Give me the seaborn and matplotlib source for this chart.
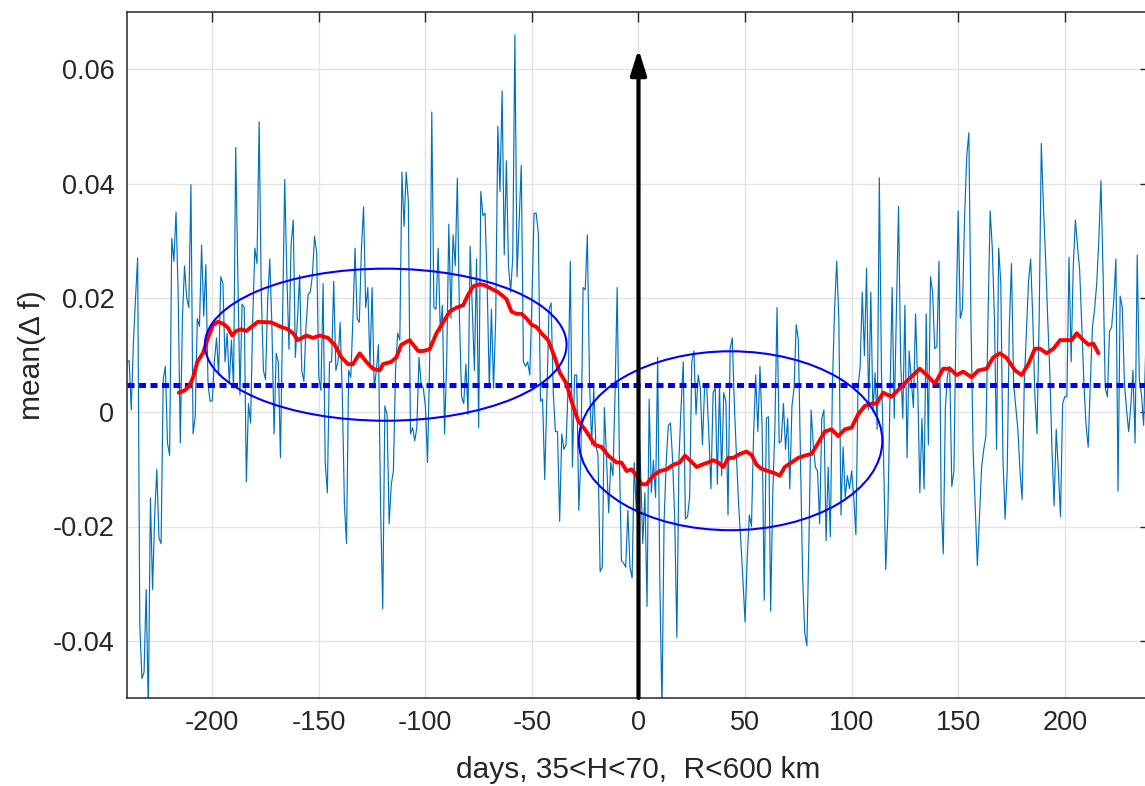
import numpy as np
import matplotlib
matplotlib.use("Agg")
import matplotlib.pyplot as plt
import seaborn as sns
from matplotlib.patches import Ellipse

# ---------------- data ----------------
day_start = -240
# daily mean(Δf) values, in units of 1e-3, starting at day -240
mean_df_milli = [
    8.8, 9, 0.4, 12, 20, 27, -37, -46.6, -45.5, -31,          # -240
    -52, -15, -31, -18, -10, -22, -23, 5.7, 8, -5.4,           # -230
    -7.6, 30.4, 26.4, 35, 21, -5.4, 16.4, 25.6, 20, 18.3,      # -220
    39.8, -3.8, -0.8, 16.4, 15, 29.2, 16.8, 25.8, 5, 1.9,      # -210
    2, 8.8, 13, 6.5, 23.7, 22.5, 8.8, 13.8, 5, 12.6,           # -200
    4.2, 46.3, 24, 3, 18.9, 18.3, -12.2, 1.5, -1.9, 16.4,      # -190
    28.7, 26, 50.8, 21, 7.3, 5.7, 19.5, 26.8, 14.9, -3.8,      # -180
    10.3, 8.8, -8, 16.4, 40.7, 24, 11, 29.4, 33.6, 9.6,        # -170
    16.4, 24, 7.3, 5.4, 14.9, 20.6, 21, 24, 30.8, 27.9,        # -160
    6.1, 3.8, 22.5, -8.8, -14.1, 8.8, 8.8, 22.9, 7.3, 8.8,     # -150
    15.7, 3.4, -16, -23, 7.3, 6.1, 16.4, 28.7, 16.4, 15.7,     # -140
    28.7, 35.9, 18.3, 21.8, 8, 21.8, 4.2, 7.3, 11.8, -17,      # -130
    -34.4, 1.1, -0.4, -19.5, -12.6, -10.3, 7.3, 13.8, 12.6, 42,  # -120
    32.5, 42, 37, -3.8, -2.7, -5, -2.7, 9.6, 5, 4.2,           # -110
    1.1, -8.8, 8.8, 52.5, 18.3, 18, 28.7, 14.1, 18.7, -3.8,    # -100
    8.8, 32.9, 16.4, 31, 25.6, 40.9, 16.4, 2.7, 1.5, 8.4,      # -90
    -0.4, 29, 18, 7.3, 26.8, -2.7, 38.6, 34.4, 34.8, 22.2,     # -80
    4.2, 18, 4.2, 16.4, 50, 38.6, 56.2, 27.5, 44, 25.6,        # -70
    21, 27.1, 66, 23.7, 33.3, 43.2, 8.8, 8, 8.8, 6.5,          # -60
    19.5, 34.8, 34.8, 31.3, 1.9, 2.3, -11.8, 2.7, 18, 19.1,    # -50
    3.4, -3.4, -3.4, -19.1, -3.8, -6.5, -5.7, 4.6, 26.4, -9.6,  # -40
    6.5, 6.5, -17.2, -7.3, 21.8, 21.4, 31, 5.7, -5.7, 4.2,     # -30
    -5.7, -7.6, -27.9, -27.1, 0.8, -8, -17.6, -8.8, -11.1, 3.4,  # -20
    21.8, -7.3, -26, -26.4, -27.1, -17.2, -27.1, -29, -8.8, -17.6,  # -10
    1.1, -10.3, -23, -14.1, -34, 2.3, -14.1, -8.4, -14.9, 9.6,  # 0
    -29.4, -52, -19.1, -8.8, -2.3, -1.9, -8.4, -18.7, -39.4, -8,  # 10
    1.1, 8.8, -18.7, -18.3, -14.9, 8.8, 10.7, -0.4, 6.5, 4.2,  # 20
    -5.7, 4.2, 4.6, -3.8, -13.4, 3.4, 4.2, -12.6, 4.6, -11.1,  # 30
    3.4, 1.9, -18, 11.1, 13, 1.1, -8, -16.4, -22.5, -29.4,     # 40
    -36.7, -25.6, -18, -20, -4, 6.5, -3.4, 8, -2.7, -32.9,     # 50
    -1.1, -0.8, -34.8, -14.1, -2.7, 18.3, -5.4, -5, 1.5, -6.5,  # 60
    -1.1, -13.4, 1.1, 4.2, 15.3, 12.6, -8, -28.7, -38.6, -40.9,  # 70
    -21.8, 0.4, -5.7, -9.6, -10.3, -19.5, -1.1, 0.4, -22.5, -9.6,  # 80
    -21.8, 5, 18, 26.4, 16.4, -18, -6.1, -14.9, -11.1, -13.4,  # 90
    -10.3, -14.9, -21.4, 4.2, 8, 21, 9.9, 25.2, 0.4, 21,       # 100
    0, 6.9, -3, 41, 7, -8, -27.5, -18, 2.7, 21.8,              # 110
    -1.1, 17, 36, 8.8, -1.1, 18.7, -8, 10.7, 5.4, 0.8,         # 120
    17.2, 5, -14.1, -1.1, -13.4, 17.2, -5.7, 23.7, 21, 11.1,   # 130
    11.5, 26.4, -16, -24.8, 0.8, 6.5, 8, -13, -10.3, 16.4,     # 140
    35.2, 16.4, 18, 34, 44.7, 48.9, 15.7, -6.5, -16.4, -26.8,  # 150
    -18, -9.6, -6.5, -4.2, 16.4, 35.2, 28.7, 16.4, -6.5, 28.7,  # 160
    22.5, -8, -18.7, -10.3, 15, 26, 5, 1.1, -3, -10.3,         # 170
    -15.3, 5, 14.1, 22.9, 26.8, 16.4, 2.7, -3.8, 16.4, 47,     # 180
    35.9, 27, 16.4, 6.9, -6.5, -16.4, -3, -10.3, -18.3, 1.5,   # 190
    2.7, 2.7, 27.1, 8.8, 25.6, 33.6, 29, 24.8, 14.9, 5,        # 200
    -2.3, -6.1, 5, 14.9, 18, 22.5, 30.2, 40.5, 24, 4.2,        # 210
    2.7, 14.1, 14.9, 19.5, 26.8, -13.8, 20.3, 18.3, 5, 0.4,    # 220
    -3.4, 1.1, 7.3, -5.4, 27.5, 5.7, 3.1, -2.3, 11.1,          # 230
]

# smoothed curve (red), day positions and values in units of 1e-3
smooth_days = [
    -215.7, -213, -210.7, -209, -207, -204.4, -202, -199.7, -197.4, -195,
    -192.7, -190.6, -188.8, -186.4, -184, -181.7, -178.6, -172.3, -167.6, -164.5,
    -162.1, -159.8, -155.9, -152.7, -149.6, -145.7, -142.6, -139.4, -136.3, -134,
    -130.8, -127.7, -124.6, -121.4, -119.9, -116, -113.6, -111.3, -107.4, -103.4,
    -101.1, -98, -94.8, -91.7, -88.6, -85.4, -82.3, -80, -77.6, -74.5,
    -72.1, -69, -65.9, -62, -59.6, -57.3, -54.9, -52.6, -50.2, -47.9,
    -45.5, -42.4, -39.3, -36.9, -33.8, -31.4, -28.3, -24.4, -20.5, -17.3,
    -14.2, -10.3, -8, -5.6, -3.3, -0.9, 1.4, 3.8, 6.9, 10,
    13.2, 16.3, 19.4, 21.8, 24.1, 27.3, 29.6, 32.7, 35.1, 37.4,
    39.8, 42.1, 44.5, 47.6, 50.7, 53.1, 55.4, 57.7, 60.8, 64,
    66.3, 68.6, 71.8, 74.9, 78, 81.2, 84.3, 87.4, 90.6, 93.7,
    96.8, 100, 103, 106.2, 109.3, 111.7, 114.8, 118.7, 122.7, 126.6,
    128.9, 132, 135.2, 139.1, 143, 146.1, 149.3, 152.4, 156.3, 159.4,
    163.3, 166.5, 169.6, 172.7, 176.7, 179.8, 182.9, 186, 188.4, 191.5,
    194.7, 197.8, 200.9, 203.3, 205.6, 208.7, 211.1, 213.4, 215.8,
]
smooth_milli = [
    3.4, 3.8, 4.6, 6.1, 8.8, 10.3, 13, 15.2, 15.8, 15.5,
    14.8, 13.4, 14.2, 14.5, 14.2, 14.9, 15.8, 15.7, 14.9, 14.5,
    13.8, 12.6, 13.4, 13, 13.4, 13, 11.8, 9.6, 8.4, 8.4,
    10.3, 8.8, 7.6, 7.3, 8.4, 8.8, 9.6, 11.8, 12.6, 10.7,
    10.7, 11, 13.8, 15.7, 17.6, 18.3, 18.7, 20.5, 22, 22.4,
    22.2, 21.6, 21, 19.8, 17.6, 17.2, 17.2, 16.4, 15.3, 14.9,
    13.8, 12.6, 9.6, 6.9, 5, 1.9, -1.5, -3.4, -5.7, -6.1,
    -7.6, -8.8, -8.8, -10.3, -10, -11.1, -12.6, -12.6, -11.1, -10.3,
    -10, -9.2, -8.8, -7.6, -8.4, -9.6, -9.2, -8.8, -8.4, -8.8,
    -9.6, -8, -8, -7.3, -6.9, -7.5, -9.2, -9.9, -10.3, -10.7,
    -11.1, -9.6, -8.8, -8, -7.6, -7.3, -5.4, -3.4, -3, -4.2,
    -3, -2.7, -0.4, 1.1, 1.5, 1.5, 3.4, 2.7, 4.2, 5.7,
    6.5, 7.6, 6.5, 5, 7.6, 7.6, 6.5, 7.1, 6.1, 7.3,
    7.6, 9.6, 10.3, 9.5, 7.3, 6.5, 8.4, 11.1, 11.1, 10.3,
    11.1, 12.6, 12.6, 12.6, 13.8, 12.6, 11.8, 12, 10.3,
]

baseline_level = 0.0047          # dotted horizontal level
ellipse_centers = [(-118.6, 0.0118), (43.2, -0.0050)]
ellipse_widths = [169.7, 142.4]   # days
ellipse_heights = [0.0266, 0.0313]
arrow_day = 0
arrow_range = (-0.05, 0.0635)

x_ticks = [-200, -150, -100, -50, 0, 50, 100, 150, 200]
x_tick_labels = ["-200", "-150", "-100", "-50", "0", "50", "100", "150", "200"]
y_ticks = [-0.04, -0.02, 0, 0.02, 0.04, 0.06]
y_tick_labels = ["-0.04", "-0.02", "0", "0.02", "0.04", "0.06"]
x_label = "days, 35<H<70,  R<600 km"
y_label = "mean(\u0394 f)"

# ---------------- plotting ----------------
days = np.arange(day_start, day_start + len(mean_df_milli))
mean_df = np.array(mean_df_milli) / 1000.0
smooth_vals = np.array(smooth_milli) / 1000.0

sns.set_theme(style="white")
plt.rcParams["font.family"] = ["Liberation Sans", "DejaVu Sans"]
plt.rcParams["axes.unicode_minus"] = False

fig = plt.figure(figsize=(11.45, 7.86), dpi=100)
ax = fig.add_axes([127 / 1145, 88 / 786, 1023 / 1145, 686 / 786])

sns.lineplot(x=days, y=mean_df, ax=ax, color="#0072BD", linewidth=0.85,
             estimator=None, zorder=2)
sns.lineplot(x=[-240, 240], y=[baseline_level, baseline_level], ax=ax,
             color="#0000FF", linewidth=3.6, estimator=None, zorder=3,
             linestyle=(0, (1.4, 0.9)))
sns.lineplot(x=smooth_days, y=smooth_vals, ax=ax, color="#FF0000",
             linewidth=2.8, estimator=None, zorder=4, sort=False)

for c, w, h in zip(ellipse_centers, ellipse_widths, ellipse_heights):
    ax.add_patch(Ellipse(c, w, h, fill=False, edgecolor="#0000FF",
                         linewidth=1.5, zorder=5))

ax.annotate("", xy=(arrow_day, arrow_range[1]), xytext=(arrow_day, arrow_range[0]),
            arrowprops=dict(arrowstyle="-|>,head_length=0.95,head_width=0.3",
                            mutation_scale=16, color="black", lw=3.0,
                            shrinkA=0, shrinkB=0),
            zorder=6)

ax.set_xlim(-240, 240)
ax.set_ylim(-0.05, 0.07)
ax.set_xticks(x_ticks)
ax.set_xticklabels(x_tick_labels)
ax.set_yticks(y_ticks)
ax.set_yticklabels(y_tick_labels)

ax.grid(True, color="#e3e3e3", linewidth=1.0)
ax.set_axisbelow(True)
for s in ax.spines.values():
    s.set_visible(True)
    s.set_color("#262626")
    s.set_linewidth(1.1)

ax.tick_params(direction="in", length=7, width=1.0, top=True, right=True,
               labelsize=19.5, pad=9, colors="#262626")
ax.set_xlabel(x_label, fontsize=21.5, color="#262626", labelpad=14)
ax.set_ylabel(y_label, fontsize=21.5, color="#262626", labelpad=5)

fig.savefig("out.png", dpi=100)
